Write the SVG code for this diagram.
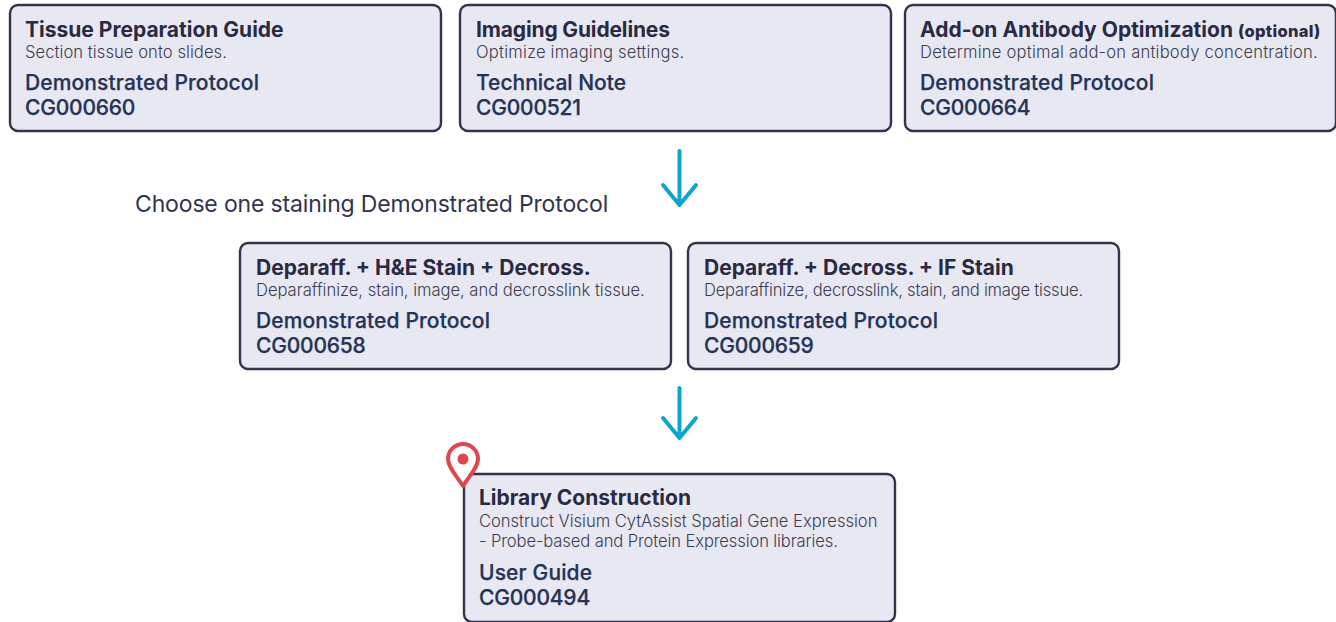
<svg xmlns="http://www.w3.org/2000/svg" width="1336" height="622" viewBox="0 0 1336 622">
<style>
text{font-family:"Inter","Liberation Sans",sans-serif}
.box{fill:#e8e8f2;stroke:#33334d;stroke-width:2.4}
.t{font-size:21px;font-weight:700;fill:#2a2a42;letter-spacing:0}
.d{font-size:16.6px;font-weight:300;fill:#3d3d52;letter-spacing:-.03px}
.l{font-size:21px;font-weight:500;fill:#243356;letter-spacing:.13px;stroke:#243356;stroke-width:.25px}
.c{letter-spacing:-.2px}
.a{fill:none;stroke:#0ea5cc;stroke-width:4;stroke-linecap:round;stroke-linejoin:round}
</style>
<rect width="1336" height="622" fill="#fff"/>
<g id="connectors">
<path class="a" d="M679.500 151V205M663 185L679.500 205L696 185"/>
<path class="a" d="M679.500 388V438M663 418L679.500 438L696 418"/>
</g>
<g id="n1"><rect class="box" x="10" y="5" width="431" height="126" rx="8"/><text class="t" x="25" y="37">Tissue Preparation Guide</text><text class="d" x="25" y="58" style="letter-spacing:.05px">Section tissue onto slides.</text><text class="l" x="25" y="90">Demonstrated Protocol</text><text class="l c" x="25" y="115">CG000660</text></g>
<g id="n2"><rect class="box" x="460" y="5" width="431" height="126" rx="8"/><text class="t" x="476" y="37" style="letter-spacing:-.15px">Imaging Guidelines</text><text class="d" x="476" y="58" style="letter-spacing:.2px">Optimize imaging settings.</text><text class="l" x="476" y="90" style="letter-spacing:0">Technical Note</text><text class="l c" x="476" y="115">CG000521</text></g>
<g id="n3"><rect class="box" x="905" y="5" width="431" height="126" rx="8"/><text class="t" x="920" y="37">Add-on Antibody Optimization <tspan font-size="16.5" font-weight="800" letter-spacing=".3">(optional)</tspan></text><text class="d" x="920" y="58" style="letter-spacing:.2px">Determine optimal add-on antibody concentration.</text><text class="l" x="920" y="90">Demonstrated Protocol</text><text class="l c" x="920" y="115">CG000664</text></g>
<text id="choose" x="135" y="212" font-size="23" fill="#33334d" letter-spacing="-.15">Choose one staining Demonstrated Protocol</text>
<g id="n4"><rect class="box" x="240" y="243" width="431" height="126" rx="8"/><text class="t" x="256" y="275">Deparaff. + H&amp;E Stain + Decross.</text><text class="d" x="256" y="296">Deparaffinize, stain, image, and decrosslink tissue.</text><text class="l" x="256" y="328">Demonstrated Protocol</text><text class="l c" x="256" y="353">CG000658</text></g>
<g id="n5"><rect class="box" x="688" y="243" width="431" height="126" rx="8"/><text class="t" x="704" y="275">Deparaff. + Decross. + IF Stain</text><text class="d" x="704" y="296" style="letter-spacing:-.22px">Deparaffinize, decrosslink, stain, and image tissue.</text><text class="l" x="704" y="328">Demonstrated Protocol</text><text class="l c" x="704" y="353">CG000659</text></g>
<g id="n6"><rect class="box" x="464" y="474" width="431" height="148" rx="8"/><text class="t" x="479" y="505">Library Construction</text><text class="d" x="479" y="527">Construct Visium CytAssist Spatial Gene Expression</text><text class="d" x="479" y="547" style="letter-spacing:-.12px">- Probe-based and Protein Expression libraries.</text><text class="l" x="479" y="580">User Guide</text><text class="l c" x="479" y="605">CG000494</text></g>
<g id="pin"><path d="M463 486C456 475 448 467 448 459A15 15 0 0 1 478 459C478 467 470 475 463 486Z" fill="#fff" stroke="#e0474c" stroke-width="4" stroke-linejoin="round"/><circle cx="463" cy="459" r="5.500" fill="#e0474c"/></g>
</svg>
